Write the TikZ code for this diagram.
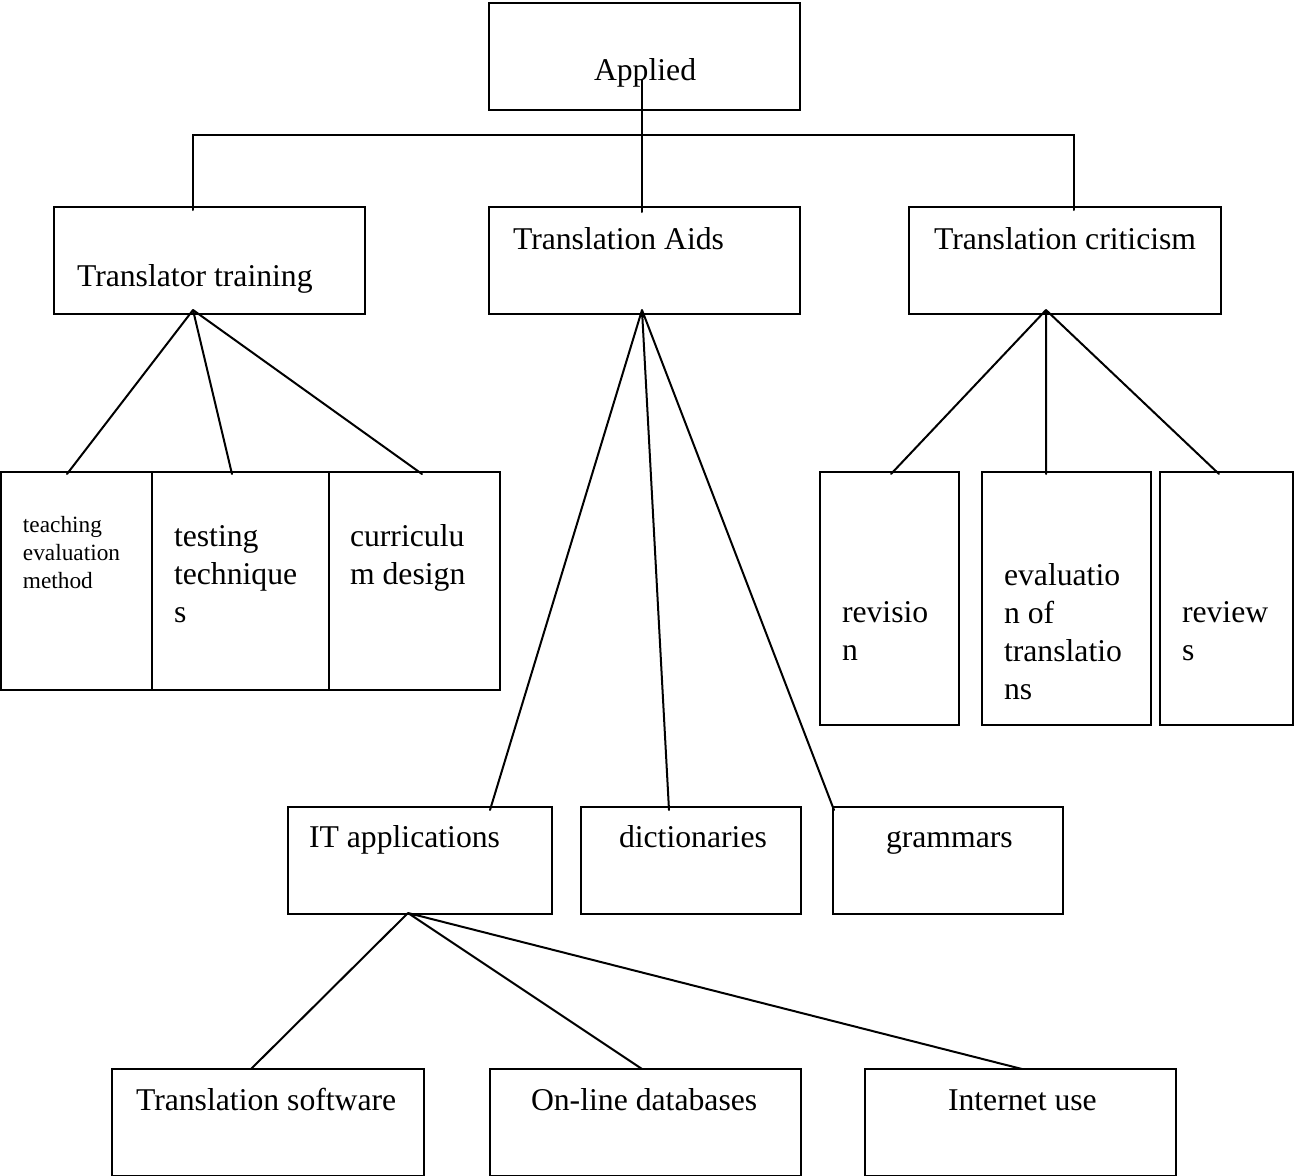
\documentclass[tikz,border=0pt]{standalone}
\usepackage{fontspec}
\setmainfont{Liberation Serif}
\newcommand\bigtxt{\fontsize{31.7}{38}\selectfont}
\newcommand\smalltxt{\fontsize{23.3}{28}\selectfont}
\newcommand\mlines[1]{\begin{tabular}[t]{@{}l@{}}#1\end{tabular}}
\begin{document}
\begin{tikzpicture}[x=1pt,y=-1pt,line width=2pt,
  box/.style={draw,line width=2pt},
  lbl/.style={anchor=base west,inner sep=0pt,font=\bigtxt},
  slbl/.style={anchor=base west,inner sep=0pt,font=\smalltxt},
  conn/.style={line width=2pt,line cap=round}]
\useasboundingbox (0,0) rectangle (1294,1176);
\fill[white] (0,0) rectangle (1294,1176);
% boxes
\draw[box] (489,3) rectangle (800,110);
\draw[box] (54,207) rectangle (365,314);
\draw[box] (489,207) rectangle (800,314);
\draw[box] (909,207) rectangle (1221,314);
\draw[box] (1,472) rectangle (152,690);
\draw[box] (152,472) rectangle (329,690);
\draw[box] (329,472) rectangle (500,690);
\draw[box] (820,472) rectangle (959,725);
\draw[box] (982,472) rectangle (1151,725);
\draw[box] (1160,472) rectangle (1293,725);
\draw[box] (288,807) rectangle (552,914);
\draw[box] (581,807) rectangle (801,914);
\draw[box] (833,807) rectangle (1063,914);
\draw[box] (112,1069) rectangle (424,1176);
\draw[box] (490,1069) rectangle (801,1176);
\draw[box] (865,1069) rectangle (1176,1176);
% labels
\node[lbl] (tApplied) at (593,80) {Applied};
\node[lbl] (tTT) at (76,286) {Translator training};
\node[lbl] (tTA) at (512,249) {Translation Aids};
\node[lbl] (tTC) at (933,249) {Translation criticism};
\node[slbl] (tTeach) at (22,532) {\mlines{teaching\\evaluation\\method}};
\node[lbl] (tTest) at (173,546) {\mlines{testing\\technique\\s}};
\node[lbl] (tCurr) at (349,546) {\mlines{curriculu\\m design}};
\node[lbl] (tRev) at (841,622) {\mlines{revisio\\n}};
\node[lbl] (tEval) at (1003,585) {\mlines{evaluatio\\n of\\translatio\\ns}};
\node[lbl] (tReviews) at (1181,622) {\mlines{review\\s}};
\node[lbl] (tIT) at (308,847) {IT applications};
\node[lbl] (tDict) at (618,847) {dictionaries};
\node[lbl] (tGram) at (885,847) {grammars};
\node[lbl] (tSoft) at (135,1110) {Translation software};
\node[lbl] (tDB) at (530,1110) {On-line databases};
\node[lbl] (tNet) at (947,1110) {Internet use};
% connector points
\coordinate (appA) at (642,80);
\coordinate (appB) at (642,212);
\coordinate (hL) at (193,135);
\coordinate (hR) at (1074,135);
\coordinate (ttTop) at (193,210);
\coordinate (tcTop) at (1074,210);
\coordinate (ttA) at (193,310);
\coordinate (taA) at (642,310);
\coordinate (tcA) at (1046,310);
\coordinate (itA) at (408,913);
\coordinate (c1) at (67,474);
\coordinate (c2) at (232,474);
\coordinate (c3) at (422,474);
\coordinate (d1) at (490,810);
\coordinate (d2) at (669,810);
\coordinate (d3) at (834,810);
\coordinate (e1) at (891,474);
\coordinate (e2) at (1046,474);
\coordinate (e3) at (1219,474);
\coordinate (f1) at (251,1069);
\coordinate (f2) at (642,1069);
\coordinate (f3) at (1022,1069);
% connectors
\draw[conn] (appA) -- (appB);
\draw[conn] (ttTop) -- (hL) -- (hR) -- (tcTop);
\draw[conn] (ttA) -- (c1) (ttA) -- (c2) (ttA) -- (c3);
\draw[conn] (taA) -- (d1) (taA) -- (d2) (taA) -- (d3);
\draw[conn] (tcA) -- (e1) (tcA) -- (e2) (tcA) -- (e3);
\draw[conn] (itA) -- (f1) (itA) -- (f2) (itA) -- (f3);
\end{tikzpicture}
\end{document}
